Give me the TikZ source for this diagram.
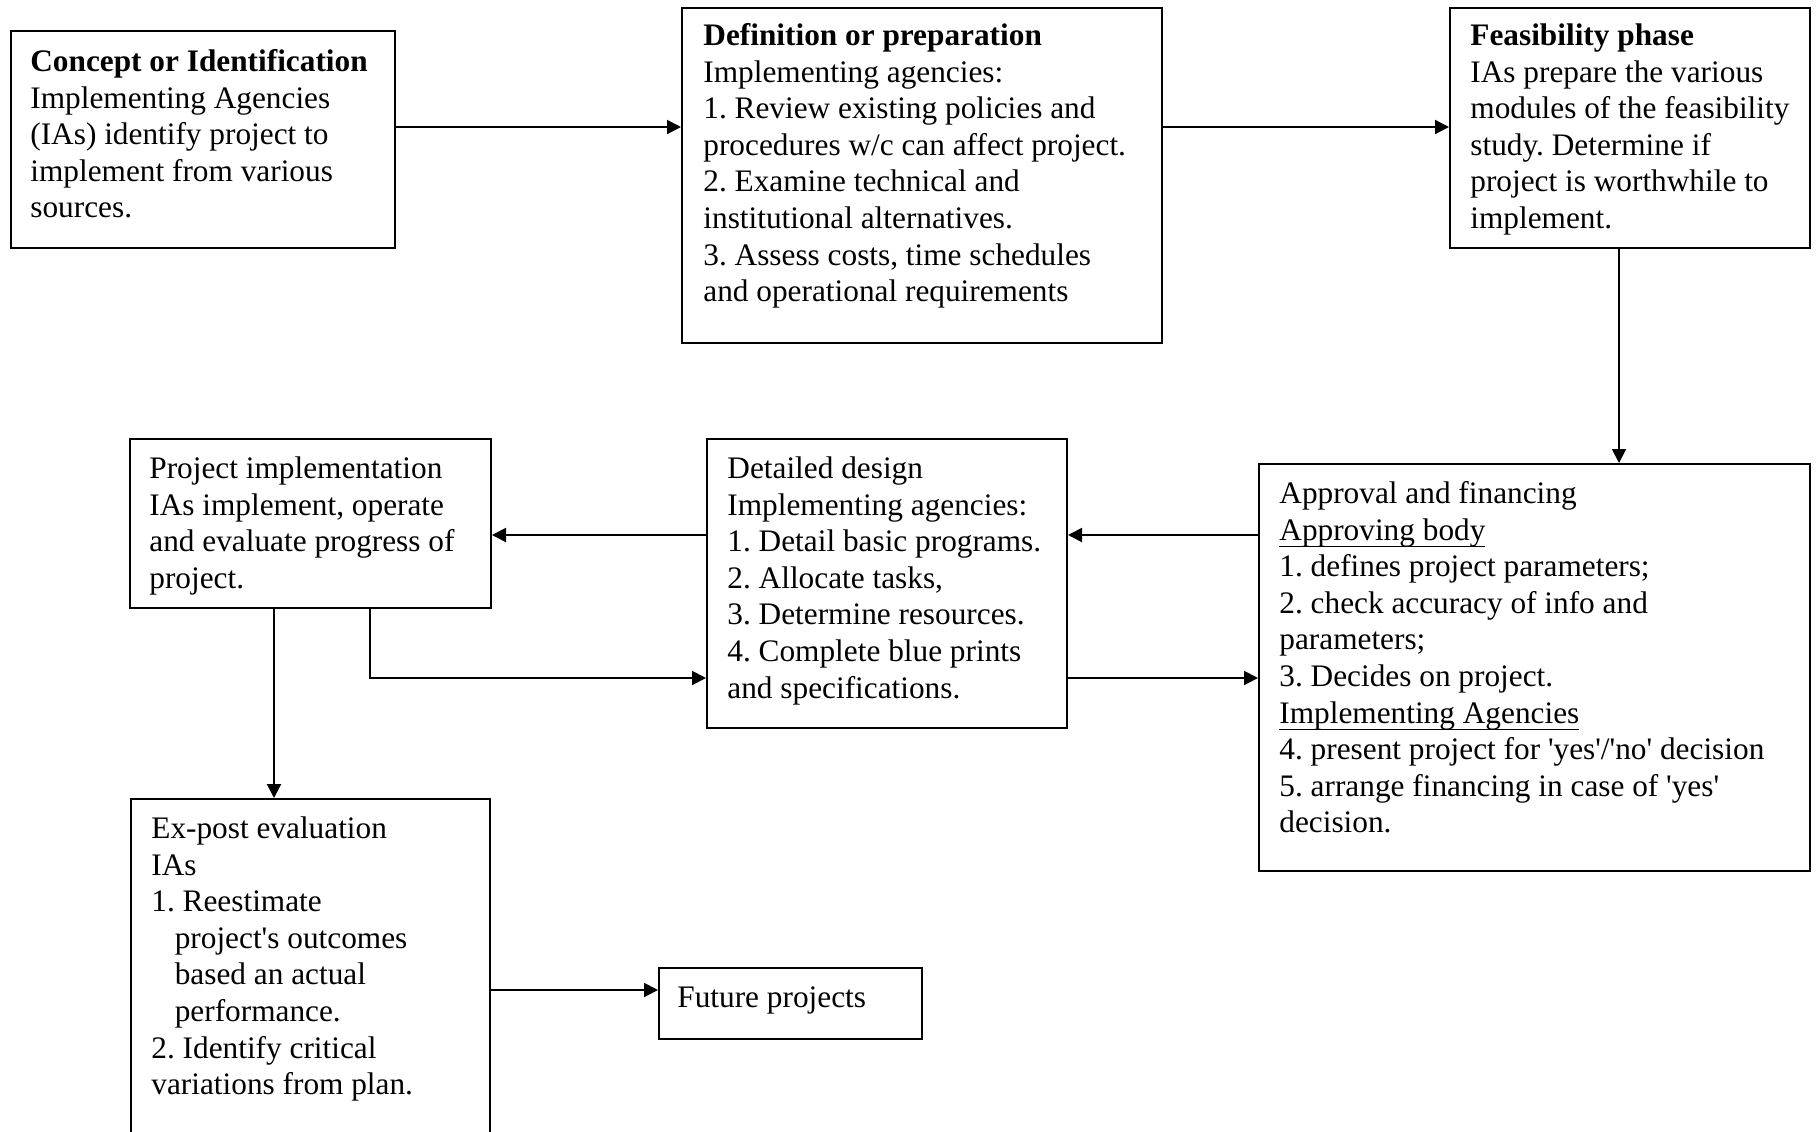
\documentclass[tikz,border=0pt]{standalone}
\usepackage{fontspec}
\newfontfamily\dfont{Liberation Serif}
\usetikzlibrary{arrows.meta}
\newsavebox\ulbox
\newcommand\ulx[1]{\sbox\ulbox{#1}\rlap{\rule[-3.6pt]{\wd\ulbox}{0.8pt}}\usebox\ulbox}
\begin{document}
\begin{tikzpicture}[x=0.5pt,y=-0.5pt,
  box/.style={draw,line width=1pt,anchor=north west,inner sep=0pt},
  txt/.style={anchor=north west,inner sep=0pt,align=left,font=\dfont\fontsize{15.65}{18.3}\selectfont\frenchspacing},
  arr/.style={line width=1pt,-{Triangle[length=7pt,width=7pt]}}]
\useasboundingbox (0,0) rectangle (1819,1131);
\clip (0,0) rectangle (1819,1131);
\fill[white] (0,0) rectangle (1819,1131);
% boxes
\node[box,minimum width=192pt,minimum height=108.5pt] (concept) at (10,30) {};
\node[box,minimum width=240pt,minimum height=167.5pt] (def) at (681,7) {};
\node[box,minimum width=180pt,minimum height=120pt] (feas) at (1449,7) {};
\node[box,minimum width=275.5pt,minimum height=203.5pt] (appr) at (1258,463) {};
\node[box,minimum width=180pt,minimum height=144.5pt] (detail) at (706,438) {};
\node[box,minimum width=180.5pt,minimum height=84.5pt] (impl) at (129,438) {};
\node[box,minimum width=179.5pt,minimum height=186pt] (expost) at (130,798) {};
\node[box,minimum width=131.5pt,minimum height=35.5pt] (future) at (658,967) {};
% texts
\node[txt] (tconcept) at (30,45.4) {\strut\textbf{Concept or Identification}\\Implementing Agencies\\(IAs) identify project to\\implement from various\\sources.};
\node[txt] (tdef) at (703,19.4) {\strut\textbf{Definition or preparation}\\Implementing agencies:\\1. Review existing policies and\\procedures w/c can affect project.\\2. Examine technical and\\institutional alternatives.\\3. Assess costs, time schedules\\and operational requirements};
\node[txt] (tfeas) at (1470,19.4) {\strut\textbf{Feasibility phase}\\IAs prepare the various\\modules of the feasibility\\study. Determine if\\project is worthwhile to\\implement.};
\node[txt] (tappr) at (1279,477.4) {\strut Approval and financing\\\ulx{Approving body}\\1. defines project parameters;\\2. check accuracy of info and\\parameters;\\3. Decides on project.\\\ulx{Implementing Agencies}\\4. present project for 'yes'/'no' decision\\5. arrange financing in case of 'yes'\\decision.};
\node[txt] (tdetail) at (727,452.4) {\strut Detailed design\\Implementing agencies:\\1. Detail basic programs.\\2. Allocate tasks,\\3. Determine resources.\\4. Complete blue prints\\and specifications.};
\node[txt] (timpl) at (149,452.4) {\strut Project implementation\\IAs implement, operate\\and evaluate progress of\\project.};
\node[txt] (texpost) at (151,812.4) {\strut Ex-post evaluation\\IAs\\1. Reestimate\\\hspace*{11.7pt}project's outcomes\\\hspace*{11.7pt}based an actual\\\hspace*{11.7pt}performance.\\2. Identify critical\\variations from plan.};
\node[txt] (tfuture) at (677,981.4) {\strut Future projects};
% connectors
\coordinate (r1) at (0,127);
\coordinate (r2) at (0,535);
\coordinate (r3) at (0,678);
\coordinate (r4) at (0,990);
\coordinate (c1) at (1619,0);
\coordinate (c2) at (370,0);
\coordinate (c3) at (274,0);
\draw[arr] (concept.east |- r1) -- (def.west |- r1);
\draw[arr] (def.east |- r1) -- (feas.west |- r1);
\draw[arr] (feas.south -| c1) -- (appr.north -| c1);
\draw[arr] (appr.west |- r2) -- (detail.east |- r2);
\draw[arr] (detail.west |- r2) -- (impl.east |- r2);
\draw[arr] (impl.south -| c2) |- (detail.west |- r3);
\draw[arr] (detail.east |- r3) -- (appr.west |- r3);
\draw[arr] (impl.south -| c3) -- (expost.north -| c3);
\draw[arr] (expost.east |- r4) -- (future.west |- r4);
\end{tikzpicture}
\end{document}
